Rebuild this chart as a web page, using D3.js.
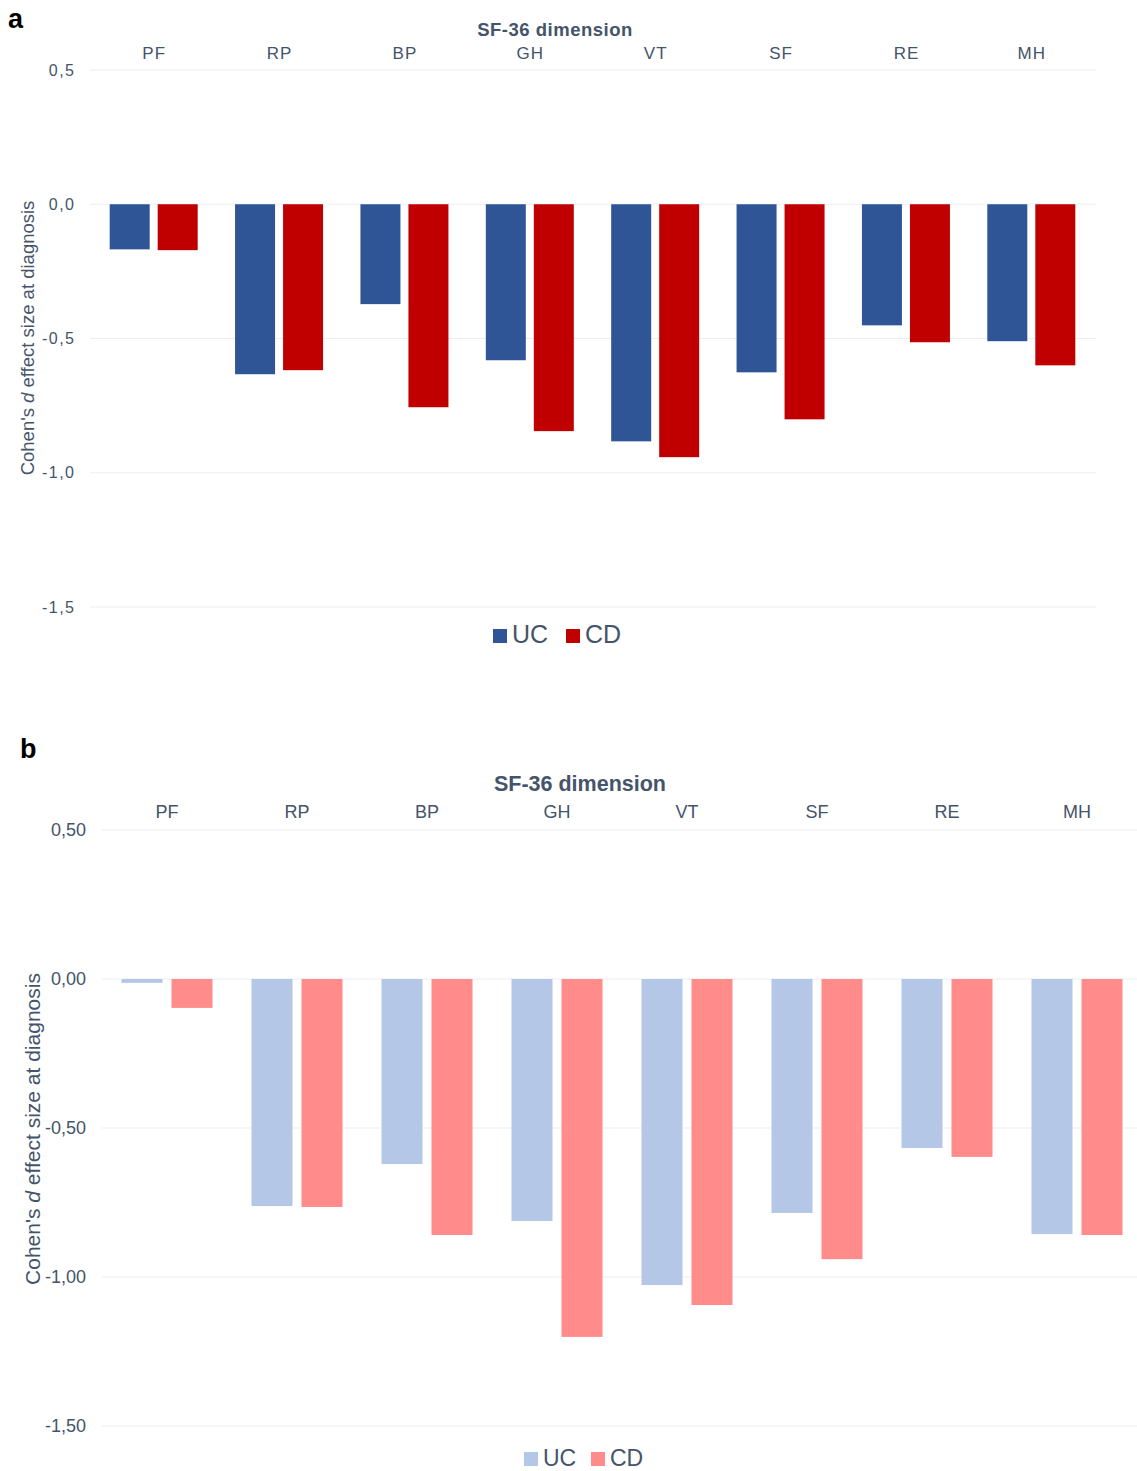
<!DOCTYPE html>
<html>
<head>
<meta charset="utf-8">
<script src="https://cdn.jsdelivr.net/npm/d3@7"></script>
<style>
	body { margin: 0; background: #fff; }
	svg { display: block; font-family: "Liberation Sans", Arial, sans-serif; }
</style>
</head>
<body>
<svg id="chart" width="1137" height="1471"></svg>
<script>
// data
const dimensions = ["PF", "RP", "BP", "GH", "VT", "SF", "RE", "MH"];
const seriesNames = ["UC", "CD"];

// panel a
const ucA = [-0.168, -0.633, -0.372, -0.581, -0.883, -0.626, -0.451, -0.510];
const cdA = [-0.171, -0.618, -0.756, -0.845, -0.942, -0.801, -0.514, -0.600];
const ticksA = [0.5, 0, -0.5, -1.0, -1.5];

// panel b
const ucB = [-0.013, -0.762, -0.621, -0.812, -1.027, -0.785, -0.567, -0.856];
const cdB = [-0.097, -0.765, -0.859, -1.201, -1.094, -0.940, -0.597, -0.859];
const ticksB = [0.5, 0, -0.5, -1.0, -1.5];

const textColor = "#44546a";
const svg = d3.select("#chart");

function drawPanel(opt) {
	const g = svg.append("g");

	let x = d3.scaleBand()
		.domain(dimensions)
		.range([opt.x0, opt.x1]);

	let y = d3.scaleLinear()
		.domain([0.5, -1.5])
		.range([opt.yTop, opt.yBottom]);

	// gridlines
	g.append("g")
		.selectAll("line")
		.data(opt.ticks)
		.join("line")
		.attr("x1", opt.gridStart)
		.attr("x2", opt.gridEnd)
		.attr("y1", d => y(d))
		.attr("y2", d => y(d))
		.attr("stroke", "#eceef2")
		.attr("stroke-width", 1.2);

	// y tick labels
	g.append("g")
		.selectAll("text")
		.data(opt.ticks)
		.join("text")
		.attr("x", opt.tickX + opt.tickLs)
		.attr("y", d => y(d))
		.attr("dy", "0.35em")
		.attr("text-anchor", "end")
		.attr("fill", textColor)
		.attr("font-size", opt.tickSize)
		.attr("letter-spacing", opt.tickLs)
		.text(d => d3.format(opt.fmt)(d).replace("−", "-").replace(".", ","));

	// category labels on top
	g.append("g")
		.selectAll("text")
		.data(dimensions)
		.join("text")
		.attr("x", d => x(d) + x.bandwidth() / 2 + opt.catLs / 2)
		.attr("y", opt.catY)
		.attr("text-anchor", "middle")
		.attr("fill", textColor)
		.attr("font-size", opt.catSize)
		.attr("letter-spacing", opt.catLs)
		.text(d => d);

	g.append("text")
		.attr("x", opt.titleX)
		.attr("y", opt.titleY)
		.attr("text-anchor", "middle")
		.attr("fill", textColor)
		.attr("font-weight", "bold")
		.attr("font-size", opt.titleSize)
		.attr("letter-spacing", opt.titleLs)
		.text("SF-36 dimension");

	// bars
	const rows = dimensions.map((d, i) => ({ dim: d, vals: [opt.uc[i], opt.cd[i]] }));
	const offset = (x.bandwidth() - (opt.barW * 2 + opt.gap)) / 2;

	g.append("g")
		.selectAll("g")
		.data(rows)
		.join("g")
		.attr("transform", d => "translate(" + (x(d.dim) + offset) + ",0)")
		.selectAll("rect")
		.data(d => d.vals.map((v, j) => ({ key: seriesNames[j], value: v })))
		.join("rect")
		.attr("x", d => d.key === "UC" ? 0 : opt.barW + opt.gap)
		.attr("y", y(0))
		.attr("width", opt.barW)
		.attr("height", d => y(d.value) - y(0))
		.attr("fill", d => opt.colors[d.key]);

	// y axis label
	const lab = g.append("text")
		.attr("transform", "translate(" + opt.labelX + "," + opt.labelY + ") rotate(-90)")
		.attr("text-anchor", "middle")
		.attr("fill", textColor)
		.attr("font-size", opt.labelSize);
	lab.append("tspan").text("Cohen's ");
	lab.append("tspan").attr("font-style", "italic").text("d");
	lab.append("tspan").text(" effect size at diagnosis");

	// legend
	const leg = g.append("g")
		.attr("transform", "translate(" + opt.legX + "," + opt.legY + ")");
	let lx = 0;
	seriesNames.forEach(s => {
		leg.append("rect")
			.attr("x", lx)
			.attr("y", -14)
			.attr("width", 14)
			.attr("height", 14)
			.attr("fill", opt.colors[s]);
		leg.append("text")
			.attr("x", lx + 19)
			.attr("y", 0)
			.attr("fill", textColor)
			.attr("font-size", opt.legSize)
			.text(s);
		lx += opt.legStep;
	});

	// panel letter
	svg.append("text")
		.attr("x", opt.letterX)
		.attr("y", opt.letterY)
		.attr("font-weight", "bold")
		.attr("font-size", 27)
		.attr("fill", "#000")
		.text(opt.letter);
}

drawPanel({
	letter: "a", letterX: 8, letterY: 28,
	uc: ucA, cd: cdA, ticks: ticksA, fmt: ".1f",
	x0: 91, x1: 1094, gridStart: 90, gridEnd: 1096,
	yTop: 70, yBottom: 607,
	barW: 40, gap: 8,
	tickX: 74, tickSize: 16, tickLs: 1.5,
	catY: 59, catSize: 17, catLs: 1,
	titleX: 555, titleY: 36, titleSize: 18.5, titleLs: 0.5,
	labelX: 34, labelY: 338, labelSize: 18.5,
	legX: 493, legY: 643, legSize: 25, legStep: 73,
	colors: { UC: "#2f5597", CD: "#c00000" }
});

drawPanel({
	letter: "b", letterX: 20, letterY: 758,
	uc: ucB, cd: cdB, ticks: ticksB, fmt: ".2f",
	x0: 102, x1: 1142, gridStart: 102, gridEnd: 1137,
	yTop: 830, yBottom: 1426,
	barW: 41, gap: 9,
	tickX: 86, tickSize: 18, tickLs: 0,
	catY: 818, catSize: 18, catLs: 0,
	titleX: 580, titleY: 791, titleSize: 21.5, titleLs: 0,
	labelX: 40, labelY: 1129, labelSize: 21,
	legX: 524, legY: 1466, legSize: 23, legStep: 67,
	colors: { UC: "#b4c7e7", CD: "#ff8b8b" }
});
</script>
</body>
</html>
